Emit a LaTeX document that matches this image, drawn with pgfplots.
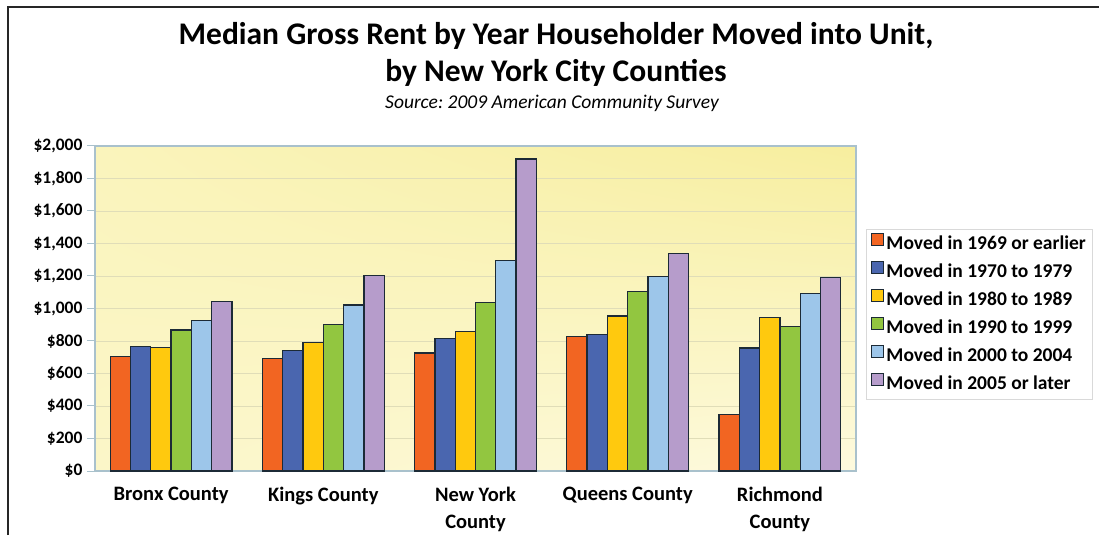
\documentclass[border=0pt]{standalone}
\usepackage{fontspec}
\setmainfont{Carlito}
\usepackage{pgfplots}
\usepackage{pgfplotstable}
\usetikzlibrary{shadings}
\pgfplotsset{compat=1.18}
\frenchspacing
\definecolor{cA}{HTML}{F26522}
\definecolor{cB}{HTML}{4A66AF}
\definecolor{cC}{HTML}{FFC90E}
\definecolor{cD}{HTML}{92C640}
\definecolor{cE}{HTML}{9DC6EA}
\definecolor{cF}{HTML}{B69CCB}
\definecolor{barline}{HTML}{1C2A36}
\definecolor{axline}{HTML}{A9C1CC}
\definecolor{gridc}{HTML}{E0DDB8}
\definecolor{bgUL}{HTML}{FAF4BC}
\definecolor{bgUR}{HTML}{F7EE9E}
\definecolor{bgLL}{HTML}{FBF6C8}
\definecolor{bgLR}{HTML}{FDFADE}

\pgfplotstableread{
x a b c d e f
0 704 766 758 867 926 1041
1 692 743 789 901 1021 1205
2 727 815 860 1035 1294 1920
3 827 840 953 1105 1199 1339
4 349 756 943 891 1094 1189
}\rentdata

\begin{document}
\begin{tikzpicture}
\useasboundingbox (0pt,0pt) rectangle (1099pt,535pt);
\fill[white] (0pt,0pt) rectangle (1099pt,535pt);
\draw[line width=2.5pt, color=black!85] (8pt,0pt) -- (8pt,528pt) -- (1099pt,528pt);
\node[font=\bfseries\fontsize{31.5}{31.5}\selectfont] at (556pt,499pt) {Median Gross Rent by Year Householder Moved into Unit,};
\node[font=\bfseries\fontsize{31.5}{31.5}\selectfont] at (556pt,462pt) {by New York City Counties};
\node[font=\itshape\fontsize{19.5}{19.5}\selectfont] at (552pt,432pt) {Source: 2009 American Community Survey};
\begin{axis}[
  anchor=origin, at={(171.1pt,64pt)},
  width=761pt, height=325pt, scale only axis,
  xmin=-0.5, xmax=4.5, ymin=0, ymax=2000,
  ybar=0pt, bar width=20.3pt,
  axis background/.style={shade, upper left=bgUL, upper right=bgUR, lower left=bgLL, lower right=bgLR},
  axis line style={draw=axline, line width=1.5pt},
  ymajorgrids, grid style={draw=gridc, line width=0.8pt},
  tick pos=left,
  ytick={0,200,...,2000},
  yticklabels={\$0,\$200,\$400,\$600,\$800,{\$1,000},{\$1,200},{\$1,400},{\$1,600},{\$1,800},{\$2,000}},
  ytick style={draw=axline, line width=1pt},
  y tick label style={font=\bfseries\fontsize{17.5}{17.5}\selectfont, xshift=-1pt},
  major tick length=8pt, tick align=outside,
  xtick={0,1,2,3,4},
  xticklabels={Bronx County, Kings County, {New York\\County}, Queens County, {Richmond\\County}},
  x tick label style={font=\bfseries\fontsize{20.5}{27}\selectfont, align=center, yshift=-5pt},
  xtick style={draw=none},
  extra x ticks={-0.5,0.5,1.5,2.5,3.5,4.5},
  extra x tick labels={},
  extra x tick style={grid=none, major tick length=6pt, tick style={draw=axline!70, line width=1pt}},
  legend style={at={(1.0131,0.7446)}, anchor=north west, draw=gray!30, line width=1pt, fill=white,
    font=\bfseries\fontsize{19.5}{19.5}\selectfont, inner xsep=5pt, inner ysep=3pt, row sep=4pt,
    nodes={inner sep=2pt, text height=15pt, text depth=5pt}},
  legend cell align=left,
  legend image code/.code={\draw[#1, draw=barline, line width=1pt] (0pt,-1pt) rectangle (12pt,11pt);},
  every axis plot/.append style={draw=barline, line width=1.3pt},
]
\addplot[fill=cA] table[x=x,y=a] {\rentdata};
\addplot[fill=cB] table[x=x,y=b] {\rentdata};
\addplot[fill=cC] table[x=x,y=c] {\rentdata};
\addplot[fill=cD] table[x=x,y=d] {\rentdata};
\addplot[fill=cE] table[x=x,y=e] {\rentdata};
\addplot[fill=cF] table[x=x,y=f] {\rentdata};
\legend{Moved in 1969 or earlier, Moved in 1970 to 1979, Moved in 1980 to 1989, Moved in 1990 to 1999, Moved in 2000 to 2004, Moved in 2005 or later}
\end{axis}
\end{tikzpicture}
\end{document}
